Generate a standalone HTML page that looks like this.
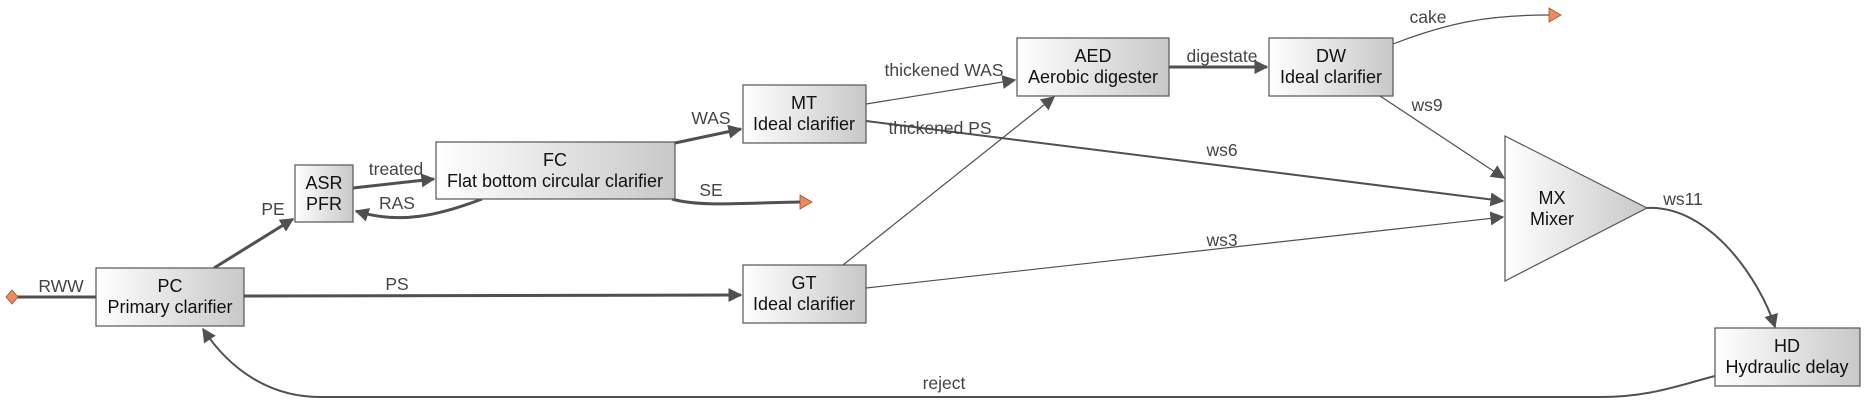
<!DOCTYPE html>
<html><head><meta charset="utf-8"><style>
html,body{margin:0;padding:0;background:#fff;}
svg{display:block;font-family:"Liberation Sans",Arial,sans-serif;}
.b{stroke:#555;stroke-width:1.2;fill:url(#g)}
.t{font-size:18px;fill:#111;text-anchor:middle}
.l{font-size:17.5px;fill:#444;text-anchor:middle}
.e{fill:none;stroke:#505050}
.k{stroke-width:3}
.n{stroke-width:1.2}
.m{stroke-width:2}
</style></head><body>
<svg width="1866" height="400" viewBox="0 0 1866 400" xmlns="http://www.w3.org/2000/svg">
<defs>
<linearGradient id="g" x1="0" y1="0" x2="1" y2="0"><stop offset="0" stop-color="#ffffff"/><stop offset="1" stop-color="#c8c8c8"/></linearGradient>
<marker id="a" viewBox="0 0 10 10" refX="9" refY="5" markerWidth="14" markerHeight="14" markerUnits="userSpaceOnUse" orient="auto"><path d="M0,0L10,5L0,10z" fill="#505050"/></marker>
<marker id="a2" viewBox="0 0 10 10" refX="9" refY="5" markerWidth="14" markerHeight="14" markerUnits="userSpaceOnUse" orient="auto"><path d="M0,0L10,5L0,10z" fill="#505050"/></marker>
</defs>
<path class="e k" d="M16,297 L96,297"/>
<path class="e k" d="M214,268 L293,219" marker-end="url(#a)"/>
<path class="e k" d="M353,188 L434,179" marker-end="url(#a)"/>
<path class="e k" d="M482,199 C440,215 400,225 356,211" marker-end="url(#a)"/>
<path class="e k" d="M675,143 L741,129" marker-end="url(#a)"/>
<path class="e k" d="M672,199 C700,207 740,203 800,202"/>
<path class="e k" d="M244,296 L741,295" marker-end="url(#a)"/>
<path class="e n" d="M866,104 L1015,80" marker-end="url(#a2)"/>
<path class="e m" d="M866,121 L1503,201" marker-end="url(#a2)"/>
<path class="e n" d="M843,265 L1054,97" marker-end="url(#a2)"/>
<path class="e n" d="M866,288 C1100,262 1300,240 1503,217" marker-end="url(#a2)"/>
<path class="e k" d="M1169,67 L1267,67" marker-end="url(#a)"/>
<path class="e n" d="M1393,44 C1450,22 1490,15 1549,15"/>
<path class="e n" d="M1380,96 L1504,178" marker-end="url(#a2)"/>
<path class="e m" d="M1647,208 C1710,205 1760,280 1775,327" marker-end="url(#a2)"/>
<path class="e m" d="M1715,376 C1680,385 1650,397 1600,397 L320,397 C270,397 230,370 203,329" marker-end="url(#a2)"/>
<path d="M12,290 L18,297 L12,304 L6,297z" fill="#f08a5d" stroke="#a0522d" stroke-width="0.8"/>
<path d="M800,195 L812,202 L800,209z" fill="#f08a5d" stroke="#a0522d" stroke-width="0.8"/>
<path d="M1549,8 L1561,15 L1549,22z" fill="#f08a5d" stroke="#a0522d" stroke-width="0.8"/>
<rect class="b" x="96" y="268" width="148" height="58"/>
<text class="t" x="170" y="292">PC</text><text class="t" x="170" y="313">Primary clarifier</text>
<rect class="b" x="295" y="165" width="58" height="57"/>
<text class="t" x="324" y="189">ASR</text><text class="t" x="324" y="210">PFR</text>
<rect class="b" x="436" y="142" width="239" height="57"/>
<text class="t" x="555" y="166">FC</text><text class="t" x="555" y="187">Flat bottom circular clarifier</text>
<rect class="b" x="743" y="85" width="123" height="58"/>
<text class="t" x="804" y="109">MT</text><text class="t" x="804" y="130">Ideal clarifier</text>
<rect class="b" x="743" y="265" width="123" height="58"/>
<text class="t" x="804" y="289">GT</text><text class="t" x="804" y="310">Ideal clarifier</text>
<rect class="b" x="1017" y="38" width="152" height="58"/>
<text class="t" x="1093" y="62">AED</text><text class="t" x="1093" y="83">Aerobic digester</text>
<rect class="b" x="1269" y="38" width="124" height="58"/>
<text class="t" x="1331" y="62">DW</text><text class="t" x="1331" y="83">Ideal clarifier</text>
<path class="b" d="M1505,136 L1647,208 L1505,281z"/>
<text class="t" x="1552" y="204">MX</text><text class="t" x="1552" y="225">Mixer</text>
<rect class="b" x="1715" y="328" width="145" height="58"/>
<text class="t" x="1787" y="352">HD</text><text class="t" x="1787" y="373">Hydraulic delay</text>
<text class="l" x="61" y="292">RWW</text>
<text class="l" x="397" y="290">PS</text>
<text class="l" x="273" y="215">PE</text>
<text class="l" x="396" y="175">treated</text>
<text class="l" x="397" y="209">RAS</text>
<text class="l" x="711" y="124">WAS</text>
<text class="l" x="711" y="196">SE</text>
<text class="l" x="944" y="76">thickened WAS</text>
<text class="l" x="940" y="134">thickened PS</text>
<text class="l" x="1222" y="62">digestate</text>
<text class="l" x="1428" y="23">cake</text>
<text class="l" x="1427" y="111">ws9</text>
<text class="l" x="1222" y="156">ws6</text>
<text class="l" x="1222" y="246">ws3</text>
<text class="l" x="1683" y="205">ws11</text>
<text class="l" x="944" y="389">reject</text>
</svg>
</body></html>
